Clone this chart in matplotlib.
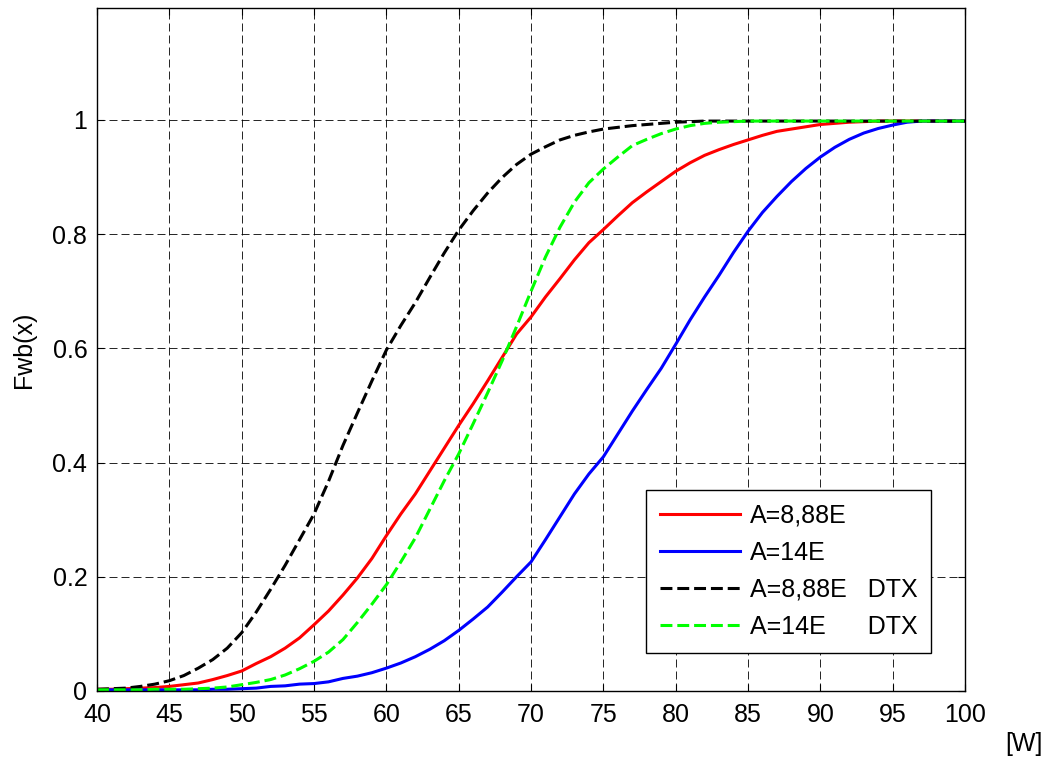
import numpy as np
import matplotlib
matplotlib.use("Agg")
import matplotlib.pyplot as plt

plt.rcParams["font.family"] = ["Liberation Sans", "DejaVu Sans"]

# Power levels [W]
power = np.arange(40, 101)

# CDF values, one per watt from 40 to 100
cdf_a888 = [
    0.003, 0.003, 0.004, 0.005, 0.006, 0.008, 0.011, 0.014, 0.020, 0.027,
    0.035, 0.048, 0.060, 0.075, 0.093, 0.116, 0.140, 0.168, 0.198, 0.232,
    0.272, 0.310, 0.345, 0.385, 0.425, 0.465, 0.503, 0.543, 0.584, 0.625,
    0.655, 0.690, 0.722, 0.755, 0.785, 0.808, 0.832, 0.855, 0.874, 0.892,
    0.910, 0.925, 0.938, 0.948, 0.957, 0.965, 0.973, 0.980, 0.984, 0.988,
    0.992, 0.994, 0.996, 0.997, 0.998, 0.998, 0.998, 0.998, 0.998, 0.998,
    0.998,
]
cdf_a14 = [
    0.002, 0.002, 0.002, 0.002, 0.002, 0.002, 0.002, 0.002, 0.003, 0.003,
    0.004, 0.005, 0.008, 0.009, 0.012, 0.013, 0.016, 0.022, 0.026, 0.032,
    0.040, 0.049, 0.060, 0.073, 0.088, 0.106, 0.126, 0.147, 0.173, 0.200,
    0.226, 0.265, 0.305, 0.345, 0.380, 0.410, 0.450, 0.490, 0.528, 0.565,
    0.607, 0.650, 0.690, 0.728, 0.768, 0.805, 0.838, 0.866, 0.892, 0.915,
    0.935, 0.952, 0.966, 0.977, 0.985, 0.991, 0.996, 0.998, 0.998, 0.998,
    0.998,
]
cdf_a888_dtx = [
    0.003, 0.004, 0.005, 0.008, 0.012, 0.018, 0.027, 0.040, 0.055, 0.075,
    0.102, 0.138, 0.178, 0.220, 0.265, 0.310, 0.367, 0.430, 0.487, 0.543,
    0.597, 0.640, 0.680, 0.724, 0.767, 0.807, 0.841, 0.872, 0.899, 0.922,
    0.940, 0.953, 0.965, 0.973, 0.979, 0.984, 0.987, 0.990, 0.992, 0.994,
    0.996, 0.997, 0.998, 0.998, 0.998, 0.998, 0.998, 0.998, 0.998, 0.998,
    0.998, 0.998, 0.998, 0.998, 0.998, 0.998, 0.998, 0.998, 0.998, 0.998,
    0.998,
]
cdf_a14_dtx = [
    0.002, 0.002, 0.002, 0.002, 0.003, 0.003, 0.003, 0.004, 0.005, 0.007,
    0.011, 0.015, 0.020, 0.028, 0.039, 0.052, 0.068, 0.090, 0.120, 0.152,
    0.186, 0.226, 0.268, 0.318, 0.368, 0.415, 0.468, 0.522, 0.578, 0.638,
    0.700, 0.760, 0.812, 0.856, 0.890, 0.914, 0.935, 0.955, 0.966, 0.976,
    0.984, 0.990, 0.994, 0.996, 0.997, 0.998, 0.998, 0.998, 0.998, 0.998,
    0.998, 0.998, 0.998, 0.998, 0.998, 0.998, 0.998, 0.998, 0.998, 0.998,
    0.998,
]

labels = ["A=8,88E", "A=14E", "A=8,88E   DTX", "A=14E      DTX"]
xticks = np.arange(40, 101, 5)
yticks = [0, 0.2, 0.4, 0.6, 0.8, 1]
ytick_labels = ["0", "0.2", "0.4", "0.6", "0.8", "1"]

fig = plt.figure(figsize=(10.48, 7.62), dpi=100)
ax = fig.add_axes([0.0926, 0.0932, 0.8282, 0.8963])

dash = (3.9, 1.6)
ax.plot(power, cdf_a888, color="#ff0000", linewidth=2.2, label=labels[0])
ax.plot(power, cdf_a14, color="#0000ff", linewidth=2.2, label=labels[1])
ax.plot(power, cdf_a888_dtx, color="black", linewidth=2.2,
        linestyle=(0, dash), label=labels[2])
ax.plot(power, cdf_a14_dtx, color="#00ff00", linewidth=2.2,
        linestyle=(0, dash), label=labels[3])

ax.set_xlim(40, 100)
ax.set_ylim(0, 1.196)
ax.set_xticks(xticks)
ax.set_yticks(yticks)
ax.set_yticklabels(ytick_labels)
ax.tick_params(direction="in", length=5, width=0.8, top=True, right=True,
               labelsize=18)
ax.tick_params(axis="x", pad=9)
ax.tick_params(axis="y", pad=7)
ax.grid(True, color="black", linewidth=0.6, linestyle=(0, (9.6, 4.8)))
for s in ax.spines.values():
    s.set_linewidth(1.0)

ax.set_ylabel("Fwb(x)", fontsize=18, labelpad=12)
fig.text(0.995, 0.008, "[W]", fontsize=18, ha="right", va="bottom")

leg = ax.legend(loc="lower right", bbox_to_anchor=(0.961, 0.056),
                fontsize=18, fancybox=False, framealpha=1, edgecolor="black",
                handlelength=3.2, labelspacing=0.52, borderpad=0.55,
                handletextpad=0.4, borderaxespad=0)
leg.get_frame().set_linewidth(1.0)

fig.savefig("out.png", dpi=100)
